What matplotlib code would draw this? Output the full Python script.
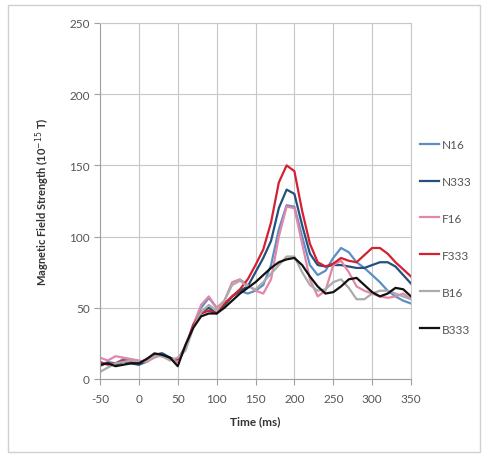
import numpy as np
import matplotlib.pyplot as plt
from matplotlib.patches import Rectangle

# time axis (ms) and the six averaged traces
time_ms = list(range(-50, 351, 10))

n16 = [9, 12, 11, 14, 13, 10, 12, 17, 18, 15, 13, 22, 38, 50, 57, 50, 52, 58, 62, 60,
       62, 66, 80, 105, 122, 121, 100, 80, 73, 76, 85, 92, 89, 82, 78, 73, 68, 62, 58, 55, 53]
n333 = [10, 11, 10, 12, 11, 10, 13, 17, 18, 15, 12, 22, 38, 47, 50, 46, 52, 58, 62, 65,
        75, 85, 97, 120, 133, 130, 108, 88, 80, 79, 80, 80, 79, 78, 78, 80, 82, 82, 79, 73, 67]
f16 = [15, 13, 16, 15, 14, 13, 12, 15, 17, 14, 12, 24, 38, 52, 58, 50, 55, 68, 70, 66,
       62, 60, 70, 100, 121, 120, 95, 70, 58, 62, 80, 83, 75, 65, 62, 60, 58, 57, 58, 60, 56]
f333 = [12, 10, 11, 13, 12, 11, 14, 17, 16, 14, 14, 22, 38, 46, 48, 46, 53, 58, 63, 70,
        80, 91, 110, 138, 150, 146, 118, 95, 82, 79, 81, 85, 83, 82, 87, 92, 92, 88, 82, 77, 72]
b16 = [5, 8, 11, 12, 13, 12, 13, 16, 16, 13, 15, 20, 36, 47, 52, 48, 55, 66, 69, 65,
       63, 68, 74, 80, 86, 86, 75, 66, 62, 63, 68, 70, 64, 56, 56, 60, 62, 62, 60, 58, 56]
b333 = [10, 11, 9, 10, 11, 11, 14, 18, 17, 15, 9, 24, 36, 44, 46, 46, 50, 55, 60, 64,
        68, 73, 78, 82, 84, 85, 80, 72, 65, 60, 61, 65, 70, 71, 66, 61, 58, 60, 64, 63, 58]

labels = ["N16", "N333", "F16", "F333", "B16", "B333"]
series = [n16, n333, f16, f333, b16, b333]
colors = ["#5b8fc4", "#24507e", "#e486a8", "#d42030", "#ababab", "#111111"]

plt.rcParams['font.family'] = ['Lato', 'DejaVu Sans']
plt.rcParams['axes.unicode_minus'] = False

fig = plt.figure(figsize=(4.84, 4.56), dpi=100)
ax = fig.add_axes([100/484, 1 - 380/456, 311/484, 356/456])

for y, c, lab in zip(series, colors, labels):
    ax.plot(time_ms, y, color=c, lw=1.6, label=lab, solid_joinstyle='round')

ax.set_xlim(-50, 350)
ax.set_ylim(0, 250)
ax.set_xticks(range(-50, 351, 50))
ax.set_yticks(range(0, 251, 50))
ax.grid(True, color="#c8c8c8", lw=0.8)
ax.set_axisbelow(True)
for s in ax.spines.values():
    s.set_color("#c8c8c8")
ax.spines['left'].set_color("#a0a0a0")
ax.spines['bottom'].set_color("#a0a0a0")
ax.tick_params(colors="#a0a0a0", labelcolor="#555555", labelsize=8.5, length=4)
ax.tick_params(axis='x', pad=6)

ax.set_xlabel("Time (ms)", fontsize=8.5, fontweight='bold', color="#333333", labelpad=8)
ax.set_ylabel("Magnetic Field Strength (10$^{-15}$ T)", fontsize=8,
              fontweight='bold', color="#333333", labelpad=12)

ax.legend(loc='center left', bbox_to_anchor=(1.0, 0.40), frameon=False,
          fontsize=8.5, labelspacing=2.2, handlelength=1.6, handletextpad=0.2,
          labelcolor="#555555", borderaxespad=0.4)

fig.patches.append(Rectangle((8/484, 3/456), 472/484, 447/456, transform=fig.transFigure,
                             fill=False, edgecolor="#d0d0d0", lw=1))

fig.savefig("out.png", dpi=100)
